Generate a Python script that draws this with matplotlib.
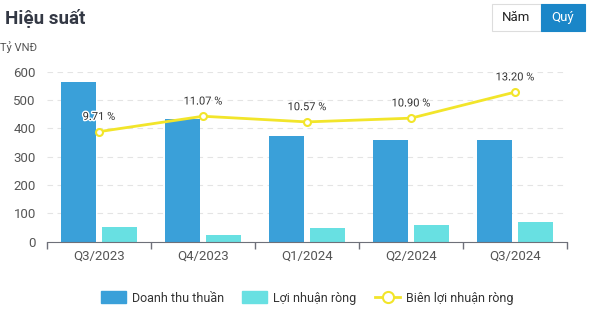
import numpy as np
import matplotlib
matplotlib.use("Agg")
import matplotlib.pyplot as plt
from matplotlib.patches import FancyBboxPatch, Rectangle
from matplotlib.lines import Line2D
import matplotlib.patheffects as pe

plt.rcParams['font.family'] = ['Roboto', 'DejaVu Sans']

quarters = ['Q3/2023', 'Q4/2023', 'Q1/2024', 'Q2/2024', 'Q3/2024']
doanh_thu = [563, 433, 373, 359, 359]
loi_nhuan = [53, 24, 47, 59, 68]
bien_ln = [9.71, 11.07, 10.57, 10.90, 13.20]

c_rev = '#3aa0d9'
c_profit = '#68e0e2'
c_line = '#f2e52a'
c_text = '#555555'

fig = plt.figure(figsize=(5.9, 3.3), dpi=100)
ax = fig.add_axes([47 / 590, 1 - 241.7 / 330, 520 / 590, 170 / 330])

x = np.arange(len(quarters))
w = 0.34
ax.bar(x - 0.197, doanh_thu, w, color=c_rev, zorder=2)
ax.bar(x + 0.197, loi_nhuan, w, color=c_profit, zorder=2)

ax.set_xlim(-0.5, len(quarters) - 0.5)
ax.set_ylim(0, 600)
ax.set_yticks(range(0, 601, 100))
ax.yaxis.grid(True, linestyle=(0, (5, 4)), color='#e4e4e4', linewidth=0.8, zorder=0)
ax.set_xticks(x)
ax.set_xticklabels(quarters)
ax.set_xticks(np.arange(-0.5, len(quarters)), minor=True)
ax.tick_params(axis='x', which='major', length=0, labelsize=9.5, labelcolor=c_text, pad=6)
ax.tick_params(axis='x', which='minor', length=5, color='#6e7079', width=1)
ax.tick_params(axis='y', length=0, labelsize=9.5, labelcolor=c_text, pad=8)
for s in ['top', 'right', 'left']:
    ax.spines[s].set_visible(False)
ax.spines['bottom'].set_color('#6e7079')

# margin line on a hidden secondary scale
ax2 = ax.twinx()
ax2.set_ylim(0, 15.0)
ax2.axis('off')
ax2.plot(x, bien_ln, color=c_line, linewidth=2, marker='o', markersize=5,
         markerfacecolor='white', markeredgecolor=c_line, markeredgewidth=1.5, zorder=3)
for xi, v in zip(x, bien_ln):
    ax2.annotate(f'{v:.2f} %', (xi, v), xytext=(0, 7), textcoords='offset points',
                 ha='center', va='bottom', fontsize=8, color='#333333',
                 path_effects=[pe.withStroke(linewidth=2, foreground='white')])

fig.text(5 / 590, 1 - 18 / 330, 'Hiệu suất', fontsize=13.5, fontweight='bold',
         color='#333844', va='center', ha='left')
fig.text(0, 1 - 47 / 330, 'Tỷ VNĐ', fontsize=8, color=c_text, va='center', ha='left')

# period toggle
fig.patches.append(Rectangle((492 / 590, 1 - 31 / 330), 49 / 590, 27 / 330,
                             transform=fig.transFigure, facecolor='white',
                             edgecolor='#dddddd', linewidth=0.8))
fig.patches.append(Rectangle((541 / 590, 1 - 31 / 330), 44 / 590, 27 / 330,
                             transform=fig.transFigure, facecolor='#1a86c8',
                             edgecolor='#1a86c8', linewidth=0.8))
fig.text(516.5 / 590, 1 - 17.5 / 330, 'Năm', fontsize=9.5, color='#222222',
         ha='center', va='center')
fig.text(563 / 590, 1 - 17.5 / 330, 'Quý', fontsize=9.5, color='white',
         ha='center', va='center')

handles = [
    FancyBboxPatch((0, 0), 1, 1, boxstyle='round,pad=0.1', facecolor=c_rev, edgecolor=c_rev),
    FancyBboxPatch((0, 0), 1, 1, boxstyle='round,pad=0.1', facecolor=c_profit, edgecolor=c_profit),
    Line2D([], [], color=c_line, linewidth=2, marker='o', markersize=8,
           markerfacecolor='white', markeredgecolor=c_line, markeredgewidth=1.5),
]
fig.legend(handles, ['Doanh thu thuần', 'Lợi nhuận ròng', 'Biên lợi nhuận ròng'],
           loc='center', bbox_to_anchor=(307 / 590, 1 - 298 / 330), ncol=3,
           frameon=False, fontsize=9, handlelength=2.0, handleheight=1.1,
           columnspacing=1.5, handletextpad=0.45, labelcolor='#333333')

fig.savefig('out.png', dpi=100)
